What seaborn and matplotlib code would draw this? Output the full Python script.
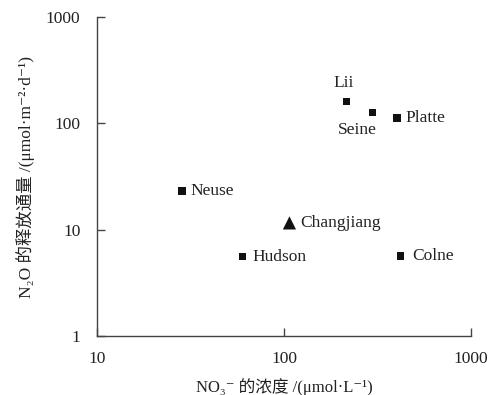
import matplotlib
matplotlib.use("Agg")
import matplotlib.pyplot as plt
import pandas as pd
import seaborn as sns

# River data: NO3- concentration vs N2O emission flux
rivers = ["Lii", "Seine", "Platte", "Neuse", "Changjiang", "Hudson", "Colne"]
no3 = [216, 298, 401, 28.5, 107, 60, 421]
n2o = [160, 127, 113, 23, 11.6, 5.6, 5.7]
kind = ["other", "other", "other", "other", "this", "other", "other"]
# label offsets (points) and alignment per river
offsets = [(-2, 8), (-11, -7), (6, 0), (6, 0), (8, 0), (7, 0), (8, 0)]
aligns = [("center", "bottom"), ("center", "top"), ("left", "center"),
          ("left", "center"), ("left", "center"), ("left", "center"),
          ("left", "center")]

df = pd.DataFrame({"river": rivers, "no3": no3, "n2o": n2o, "kind": kind})

sns.set_style("ticks")
plt.rcParams["font.family"] = ["Liberation Serif", "DejaVu Serif", "Noto Sans CJK SC"]

fig, ax = plt.subplots(figsize=(4.9, 3.95), dpi=100)
fig.subplots_adjust(left=0.198, right=0.961, bottom=0.149, top=0.957)

sns.scatterplot(data=df, x="no3", y="n2o", style="kind", size="kind",
                markers={"other": "s", "this": "^"},
                sizes={"other": 30, "this": 90},
                color="#111111", edgecolor="none", legend=False, ax=ax)

for i, r in enumerate(rivers):
    ax.annotate(r, (no3[i], n2o[i]), xytext=offsets[i], textcoords="offset points",
                ha=aligns[i][0], va=aligns[i][1], fontsize=12.5, color="#222222")

ax.set_xscale("log")
ax.set_yscale("log")
ax.set_xlim(10, 1000)
ax.set_ylim(1, 1000)
ax.set_xticks([10, 100, 1000])
ax.set_xticklabels(["10", "100", "1000"])
ax.set_yticks([1, 10, 100, 1000])
ax.set_yticklabels(["1", "10", "100", "1000"])
ax.minorticks_off()
ax.tick_params(direction="in", length=6, width=1, colors="#444444",
               labelcolor="#222222", labelsize=12.5)
ax.tick_params(axis="y", pad=12)
ax.tick_params(axis="x", pad=11)
for s in ["left", "bottom"]:
    ax.spines[s].set_color("#444444")
    ax.spines[s].set_linewidth(1)
sns.despine(ax=ax)

ax.set_xlabel("NO₃⁻ 的浓度 /(μmol·L⁻¹)", fontsize=12, color="#222222", labelpad=8)
ax.set_ylabel("N₂O 的释放通量 /(μmol·m⁻²·d⁻¹)", fontsize=12.5, color="#222222", labelpad=8)

fig.savefig("out.png", dpi=100)
